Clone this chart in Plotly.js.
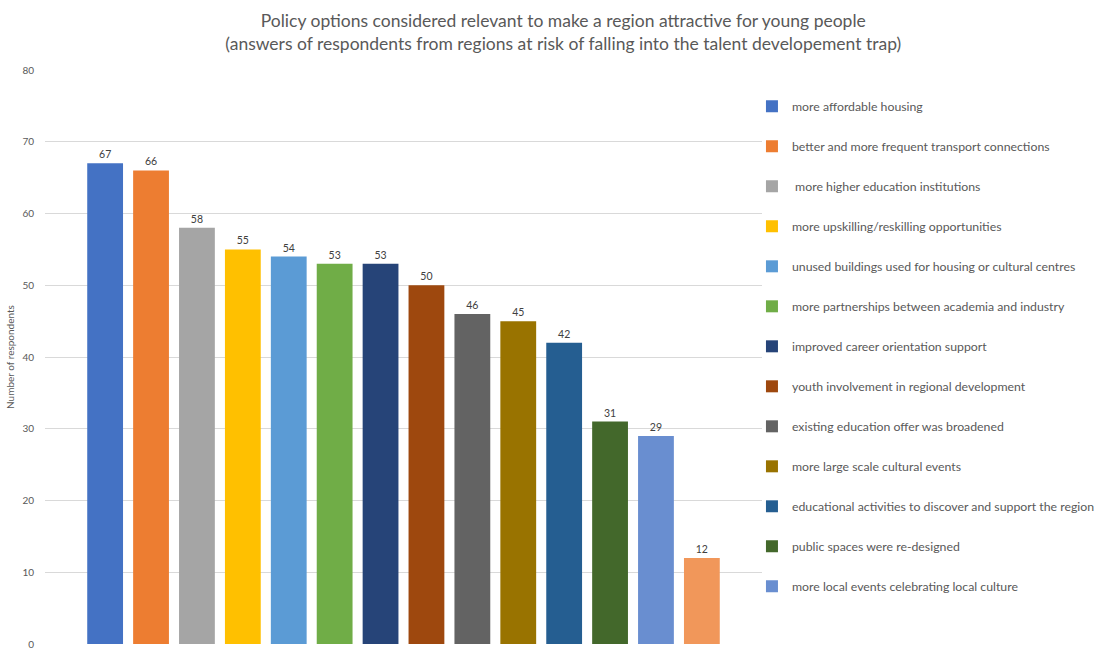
<!DOCTYPE html>
<html>
<head>
<meta charset="utf-8">
<script src="https://cdn.plot.ly/plotly-3.0.1.min.js"></script>
<style>html,body{margin:0;padding:0;background:#fff;}#chart{width:1098px;height:650px;}</style>
</head>
<body>
<div id="chart"></div>
<script>
const categories = [
  "more affordable housing",
  "better and more frequent transport connections",
  " more higher education institutions",
  "more upskilling/reskilling opportunities",
  "unused buildings used for housing or cultural centres",
  "more partnerships between academia and industry",
  "improved career orientation support",
  "youth involvement in regional development",
  "existing education offer was broadened",
  "more large scale cultural events",
  "educational activities to discover and support the region",
  "public spaces were re-designed",
  "more local events celebrating local culture",
  "other"
];
const values = [67, 66, 58, 55, 54, 53, 53, 50, 46, 45, 42, 31, 29, 12];
const colors = ["#4472C4","#ED7D31","#A5A5A5","#FFC000","#5B9BD5","#70AD47","#264478",
                "#9E480E","#636363","#997300","#255E91","#43682B","#698ED0","#F1975A"];
const yTicks = [0,10,20,30,40,50,60,70,80];

const traces = categories.map((name, i) => ({
  type: "bar",
  x: [i],
  y: [values[i]],
  name: name,
  legendgroup: "g" + i,
  showlegend: i < 13,
  width: 0.78,
  marker: {color: colors[i], line: {width: 0}},
  text: [String(values[i])],
  textposition: "outside",
  cliponaxis: false,
  textfont: {size: 10.5, color: "#404040"},
  hoverinfo: "name+y"
}));

const layout = {
  width: 1098, height: 650,
  font: {family: "Lato, 'Open Sans', sans-serif", color: "#595959"},
  paper_bgcolor: "#fff", plot_bgcolor: "#fff",
  margin: {l: 45, r: 336, t: 70, b: 6, autoexpand: false},
  barmode: "overlay",
  title: {
    text: "Policy options considered relevant to make a region attractive for young people<br>(answers of respondents from regions at risk of falling into the talent developement trap)",
    font: {size: 17.5, color: "#595959"},
    x: 0.513, xanchor: "center", xref: "container",
    y: 0.958, yanchor: "top", yref: "container"
  },
  xaxis: {range: [-1.31, 14.31], showticklabels: false, showgrid: false, zeroline: false, ticks: ""},
  yaxis: {
    range: [0, 80], tickvals: yTicks, ticktext: yTicks.map(String),
    showgrid: true, gridcolor: "#d9d9d9", gridwidth: 1, zeroline: false,
    tickfont: {size: 10, color: "#595959"}, ticks: "outside", ticklen: 8, tickcolor: "rgba(0,0,0,0)",
    title: {text: "Number of respondents", font: {size: 10, color: "#595959"}, standoff: 5}
  },
  legend: {
    x: 0.986, xanchor: "left", y: 0.962, yanchor: "top",
    font: {size: 12.3, color: "#595959"},
    traceorder: "grouped", tracegroupgap: 21,
    itemwidth: 30, bgcolor: "rgba(0,0,0,0)"
  },
  showlegend: true
};

Plotly.newPlot("chart", traces, layout, {displayModeBar: false, staticPlot: true});
</script>
</body>
</html>
